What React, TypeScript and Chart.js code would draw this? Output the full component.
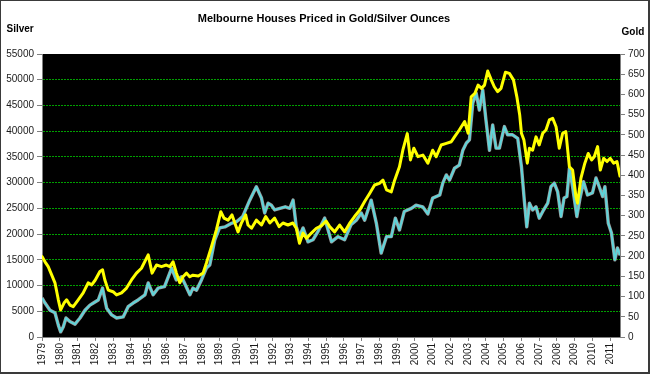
import React, { useEffect, useRef } from "react";
import { Chart, registerables } from "chart.js";

Chart.register(...registerables);

const TITLE = "Melbourne Houses Priced in Gold/Silver Ounces";
const LEFT_AXIS_TITLE = "Silver";
const RIGHT_AXIS_TITLE = "Gold";

const yearTicks = [
  1979, 1980, 1981, 1982, 1983, 1984, 1985, 1986, 1987, 1988, 1989, 1990, 1991,
  1992, 1993, 1994, 1995, 1996, 1997, 1998, 1999, 2000, 2001, 2002, 2003, 2004,
  2005, 2006, 2007, 2008, 2009, 2010, 2011,
];
const X_MIN = 1979;
const X_MAX = 2011.55;

// Silver ounces (left axis) — decimal year, value
const silverYears = [
  1979.0, 1979.17, 1979.45, 1979.73, 1979.92, 1980.05, 1980.2, 1980.35, 1980.57, 1980.86,
  1981.14, 1981.42, 1981.7, 1981.89, 1982.17, 1982.41, 1982.64, 1982.92, 1983.2, 1983.57,
  1983.85, 1984.13, 1984.41, 1984.8, 1984.98, 1985.26, 1985.54, 1985.9, 1986.3, 1986.56,
  1986.86, 1987.33, 1987.5, 1987.7, 1987.98, 1988.26, 1988.45, 1988.73, 1989.0, 1989.3,
  1989.67, 1989.95, 1990.3, 1990.7, 1991.07, 1991.36, 1991.54, 1991.73, 1991.92, 1992.1,
  1992.4, 1992.7, 1992.95, 1993.14, 1993.32, 1993.5, 1993.7, 1993.98, 1994.26, 1994.54,
  1994.92, 1995.3, 1995.67, 1996.04, 1996.4, 1996.7, 1996.98, 1997.17, 1997.54, 1997.83,
  1998.1, 1998.4, 1998.67, 1998.9, 1999.13, 1999.4, 1999.8, 2000.06, 2000.44, 2000.73,
  2001.0, 2001.4, 2001.57, 2001.77, 2001.95, 2002.23, 2002.5, 2002.7, 2002.9, 2003.07,
  2003.26, 2003.45, 2003.63, 2003.82, 2004.0, 2004.2, 2004.38, 2004.57, 2004.76, 2005.04,
  2005.22, 2005.5, 2005.79, 2006.0, 2006.16, 2006.3, 2006.45, 2006.63, 2006.82, 2007.0,
  2007.2, 2007.48, 2007.66, 2007.85, 2008.04, 2008.23, 2008.4, 2008.56, 2008.7, 2008.88,
  2009.12, 2009.3, 2009.5, 2009.72, 2010.0, 2010.2, 2010.38, 2010.57, 2010.7, 2010.89,
  2011.07, 2011.26, 2011.41, 2011.55,
];
const silverOunces = [
  7600, 6600, 5200, 4700, 2300, 1000, 2000, 3700, 3000, 2500,
  3700, 5200, 6200, 6600, 7200, 9500, 5600, 4300, 3700, 3900,
  5900, 6600, 7200, 8200, 10500, 8200, 9500, 9800, 13400, 11100,
  11700, 8200, 9500, 9100, 11100, 13400, 14000, 18900, 21200, 21400,
  22100, 22400, 23400, 26600, 29200, 27000, 24100, 26000, 25600, 24700,
  25000, 25300, 25000, 26600, 21400, 19500, 21200, 18500, 18900, 20500,
  23100, 18500, 19500, 18900, 21800, 22700, 24100, 22700, 26600, 22100,
  16300, 19500, 19500, 23100, 20800, 24400, 25000, 25600, 25300, 23900,
  27000, 27600, 29900, 31500, 30500, 32800, 33400, 36300, 37700, 38300,
  45500, 47400, 44100, 48000, 42200, 36300, 41200, 36700, 36700, 40900,
  39300, 39300, 38600, 33100, 26600, 21400, 26000, 24700, 25300, 23100,
  24400, 26000, 29200, 29900, 28200, 23400, 27000, 27300, 32800, 29200,
  23400, 27000, 30200, 27600, 28000, 30900, 29200, 27300, 29200, 22100,
  20200, 15000, 17300, 15900,
];

// Gold ounces (right axis) — decimal year, value
const goldYears = [
  1979.0, 1979.17, 1979.35, 1979.55, 1979.73, 1979.92, 1980.05, 1980.24, 1980.39, 1980.57,
  1980.76, 1981.04, 1981.32, 1981.6, 1981.8, 1982.0, 1982.26, 1982.41, 1982.54, 1982.73,
  1983.0, 1983.2, 1983.48, 1983.76, 1984.04, 1984.32, 1984.6, 1984.98, 1985.2, 1985.45,
  1985.73, 1986.0, 1986.2, 1986.38, 1986.57, 1986.76, 1986.94, 1987.14, 1987.32, 1987.5,
  1987.8, 1988.07, 1988.26, 1988.54, 1988.82, 1989.07, 1989.25, 1989.48, 1989.7, 1990.04,
  1990.23, 1990.47, 1990.6, 1990.8, 1991.07, 1991.36, 1991.6, 1991.83, 1992.1, 1992.35,
  1992.57, 1992.85, 1993.13, 1993.32, 1993.5, 1993.7, 1993.9, 1994.17, 1994.45, 1994.73,
  1995.0, 1995.2, 1995.48, 1995.76, 1996.04, 1996.32, 1996.6, 1996.9, 1997.17, 1997.45,
  1997.73, 1998.0, 1998.2, 1998.4, 1998.67, 1998.86, 1999.13, 1999.32, 1999.57, 1999.75,
  1999.94, 2000.17, 2000.45, 2000.73, 2001.0, 2001.2, 2001.48, 2001.77, 2002.05, 2002.23,
  2002.5, 2002.8, 2003.0, 2003.17, 2003.38, 2003.56, 2003.75, 2003.92, 2004.1, 2004.3,
  2004.47, 2004.66, 2004.85, 2005.1, 2005.32, 2005.55, 2005.75, 2005.9, 2006.0, 2006.14,
  2006.33, 2006.45, 2006.63, 2006.82, 2007.0, 2007.2, 2007.38, 2007.57, 2007.76, 2007.95,
  2008.13, 2008.32, 2008.5, 2008.7, 2008.88, 2009.07, 2009.16, 2009.35, 2009.57, 2009.76,
  2009.95, 2010.1, 2010.29, 2010.44, 2010.63, 2010.82, 2011.0, 2011.19, 2011.38, 2011.55,
];
const goldOunces = [
  199, 186, 174, 153, 134, 92, 67, 84, 92, 79,
  75, 92, 109, 134, 129, 141, 162, 166, 141, 116,
  112, 104, 109, 121, 141, 158, 170, 203, 158, 178,
  174, 178, 174, 186, 158, 134, 149, 158, 149, 153,
  151, 158, 183, 223, 265, 310, 294, 289, 302, 260,
  282, 302, 277, 269, 289, 277, 298, 282, 294, 273,
  282, 277, 282, 269, 232, 257, 244, 257, 269, 275,
  287, 273, 260, 277, 260, 281, 298, 314, 335, 355,
  376, 380, 388, 364, 359, 388, 421, 462, 503, 438,
  467, 446, 450, 430, 462, 446, 475, 479, 483, 495,
  512, 533, 504, 594, 603, 623, 615, 623, 658, 636,
  619, 607, 615, 655, 652, 636, 592, 550, 504, 487,
  430, 467, 462, 495, 475, 504, 512, 537, 541, 520,
  467, 504, 508, 421, 413, 347, 331, 393, 430, 454,
  438, 446, 471, 413, 442, 434, 442, 430, 434, 398,
];

const FONT = "'Liberation Sans', Arial, Helvetica, sans-serif";
const GRID_GREEN = "#00a000";
const AXIS_GREY = "#808080";
const TEXT = "#1a1a1a";

export default function App() {
  const ref = useRef<HTMLCanvasElement | null>(null);

  useEffect(() => {
    if (!ref.current) return;

    const silverData = silverYears.map((x, i) => ({ x, y: silverOunces[i] }));
    const goldData = goldYears.map((x, i) => ({ x, y: goldOunces[i] }));

    const decorPlugin = {
      id: "decor",
      beforeDraw(chart: any) {
        const { ctx, chartArea: a, width, height } = chart;
        ctx.save();
        ctx.fillStyle = "#ffffff";
        ctx.fillRect(0, 0, width, height);
        ctx.fillStyle = "#000000";
        ctx.fillRect(a.left, a.top, a.right - a.left, a.bottom - a.top);
        ctx.restore();
      },
      afterDraw(chart: any) {
        const { ctx, width, height } = chart;
        ctx.save();
        ctx.fillStyle = "#000000";
        ctx.textBaseline = "alphabetic";
        ctx.font = `bold 11px ${FONT}`;
        ctx.textAlign = "center";
        ctx.fillText(TITLE, 324, 22);
        ctx.font = `bold 10px ${FONT}`;
        ctx.textAlign = "left";
        ctx.fillText(LEFT_AXIS_TITLE, 6.5, 32);
        ctx.fillText(RIGHT_AXIS_TITLE, 621.5, 35);
        // chart-area frame
        ctx.fillStyle = "#3a3a3a";
        ctx.fillRect(0, 0, width, 1);
        ctx.fillRect(0, 0, 1, height);
        ctx.fillRect(width - 2, 0, 2, height);
        ctx.fillRect(0, height - 2, width, 2);
        ctx.restore();
      },
    };

    const chart = new Chart(ref.current, {
      type: "line",
      data: {
        datasets: [
          {
            label: "Gold",
            data: goldData,
            yAxisID: "y2",
            borderColor: "#ffff00",
            borderWidth: 3,
            pointRadius: 0,
            tension: 0,
            borderJoinStyle: "round",
            borderCapStyle: "round",
          },
          {
            label: "Silver",
            data: silverData,
            yAxisID: "y",
            borderColor: "#5fd4d9",
            borderWidth: 2,
            pointRadius: 0,
            tension: 0,
            borderJoinStyle: "round",
          },
          {
            label: "Silver shadow",
            data: silverData,
            yAxisID: "y",
            borderColor: "#9a9a9a",
            borderWidth: 3.4,
            pointRadius: 0,
            tension: 0,
            borderJoinStyle: "round",
          },
        ],
      },
      options: {
        responsive: false,
        animation: false,
        events: [],
        layout: { padding: { top: 54, left: 0, right: 0, bottom: 0 } },
        plugins: {
          legend: { display: false },
          tooltip: { enabled: false },
          title: { display: false },
        },
        scales: {
          x: {
            type: "linear",
            min: X_MIN,
            max: X_MAX,
            afterBuildTicks(scale: any) {
              scale.ticks = yearTicks.map((v) => ({ value: v }));
            },
            afterFit(scale: any) {
              scale.height = 37;
            },
            ticks: {
              autoSkip: false,
              minRotation: 90,
              maxRotation: 90,
              padding: 2,
              color: TEXT,
              font: { family: FONT, size: 10 },
              callback: (v: any) => String(v),
            },
            grid: {
              drawOnChartArea: false,
              drawTicks: true,
              tickLength: 4,
              tickColor: AXIS_GREY,
            },
            border: { display: true, color: AXIS_GREY, width: 1 },
          },
          y: {
            position: "left",
            min: 0,
            max: 55000,
            afterFit(scale: any) {
              scale.width = 42;
            },
            ticks: {
              stepSize: 5000,
              padding: 3,
              color: TEXT,
              font: { family: FONT, size: 10 },
              callback: (v: any) => String(v),
            },
            grid: {
              drawOnChartArea: true,
              drawTicks: true,
              tickLength: 5,
              tickColor: AXIS_GREY,
              lineWidth: 1,
              color: (ctx: any) =>
                ctx.tick && (ctx.tick.value === 0 || ctx.tick.value === 55000)
                  ? "rgba(0,0,0,0)"
                  : GRID_GREEN,
            },
            border: { display: true, color: AXIS_GREY, width: 1, dash: [2, 1] },
          },
          y2: {
            position: "right",
            min: 0,
            max: 700,
            afterFit(scale: any) {
              scale.width = 30;
            },
            ticks: {
              stepSize: 50,
              padding: 3,
              color: TEXT,
              font: { family: FONT, size: 10 },
              callback: (v: any) => String(v),
            },
            grid: {
              drawOnChartArea: false,
              drawTicks: true,
              tickLength: 5,
              tickColor: AXIS_GREY,
            },
            border: { display: true, color: AXIS_GREY, width: 1 },
          },
        },
      },
      plugins: [decorPlugin],
    } as any);

    return () => chart.destroy();
  }, []);

  return (
    <div style={{ position: "fixed", left: 0, top: 0, width: 650, height: 374 }}>
      <canvas ref={ref} width={650} height={374} style={{ display: "block", width: 650, height: 374 }} />
    </div>
  );
}
